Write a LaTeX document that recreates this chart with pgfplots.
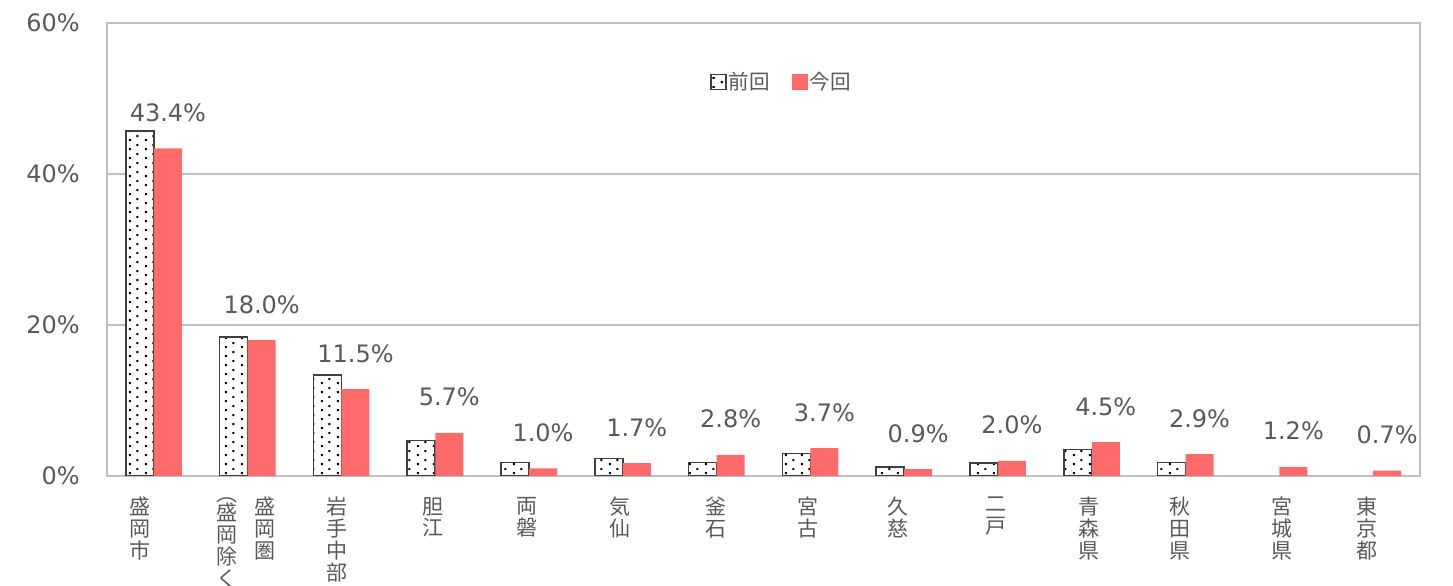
\documentclass[border=0pt]{standalone}
\usepackage{fontspec}
\setmainfont{DejaVu Sans}
\newfontfamily\jp{Noto Sans CJK JP}
\usepackage{pgfplots}
\pgfplotsset{compat=1.18}
\usetikzlibrary{patterns.meta}
\definecolor{txt}{HTML}{595959}
\definecolor{grd}{HTML}{C0C0C0}
\definecolor{cur}{HTML}{FF6B6B}
\definecolor{bord}{HTML}{404040}
\tikzdeclarepattern{name=xldots, type=uncolored, bottom left={(0pt,0pt)}, top right={(16pt,8.5pt)}, tile size={(16pt,8.5pt)},
  code={\fill (1pt,1pt) rectangle (3pt,3pt); \fill (9pt,5.25pt) rectangle (11pt,7.25pt);}}

\begin{document}
\begin{tikzpicture}[x=1pt,y=1pt]
\begin{axis}[
  at={(107pt,110pt)}, anchor=south west,
  width=1313pt, height=453pt, scale only axis,
  xmin=-0.5, xmax=13.5, ymin=0, ymax=60,
  axis line style={grd, line width=1.3pt},
  ymajorgrids, grid style={grd, line width=1.3pt},
  ytick={0,20,40,60}, yticklabels={0\%,20\%,40\%,60\%},
  major tick length=0pt,
  /pgf/number format/assume math mode=true,
  yticklabel style={font=\fontsize{24}{27}\selectfont, text=txt, anchor=east, inner sep=0pt, xshift=-27pt},
  xtick={-0.153,0.779,1.185,1.952,2.981,3.978,4.970,5.993,6.979,7.934,8.979,9.970,10.94,12.028,12.939},
  xticklabels={{盛\\岡\\市},{︵\\[-2pt]盛\\岡\\除\\く},{盛\\岡\\圏},{岩\\手\\中\\部},{胆\\江},{両\\磐},{気\\仙},{釜\\石},{宮\\古},{久\\慈},{二\\戸},{青\\森\\県},{秋\\田\\県},{宮\\城\\県},{東\\京\\都}},
  xticklabel style={font=\jp\fontsize{21}{21.8}\selectfont, text=txt, align=center, anchor=north, inner sep=0pt, yshift=-21pt},
  ybar, bar width=28pt,
  legend style={at={(0.457,0.870)}, anchor=west, draw=none, fill=none, legend columns=2,
    font=\jp\fontsize{20.5}{21}\selectfont, text=txt,
    /tikz/every even column/.append style={column sep=20pt}},
  legend cell align=left,
]
\addplot[draw=bord, line width=1.6pt, fill=white, postaction={pattern=xldots, pattern color=black}, bar shift=-14pt,
  legend image code/.code={\draw[draw=bord, line width=1.6pt, fill=white, postaction={pattern=xldots, pattern color=black}] (0pt,-7.5pt) rectangle (15pt,7.5pt);}]
  coordinates {(0,45.7) (1,18.4) (2,13.4) (3,4.7) (4,1.8) (5,2.3) (6,1.8) (7,3.0) (8,1.2) (9,1.7) (10,3.5) (11,1.8)};
\addlegendentry{前回}
\addplot[draw=none, fill=cur, bar shift=14pt,
  legend image code/.code={\fill[cur] (0pt,-8pt) rectangle (16pt,8pt);},
  nodes near coords={\pgfmathprintnumber[fixed,fixed zerofill,precision=1]{\pgfplotspointmeta}\%},
  nodes near coords style={font=\fontsize{24}{27}\selectfont, text=txt, anchor=base, inner sep=0pt, yshift=27pt}]
  coordinates {(0,43.4) (1,18.0) (2,11.5) (3,5.7) (4,1.0) (5,1.7) (6,2.8) (7,3.7) (8,0.9) (9,2.0) (10,4.5) (11,2.9) (12,1.2) (13,0.7)};
\addlegendentry{今回}
\end{axis}
\pgfresetboundingbox
\path (0,0) rectangle (1453,586);
\end{tikzpicture}
\end{document}
